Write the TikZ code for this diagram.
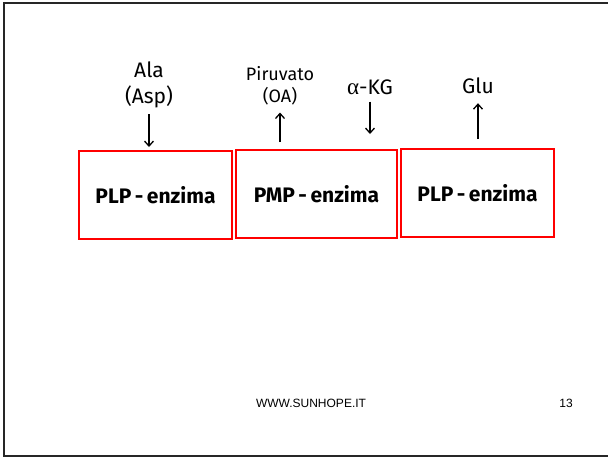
\documentclass[tikz,border=0pt]{standalone}
\usepackage{fontspec}
\setmainfont{Fira Sans}
\newfontfamily\footfont{Liberation Sans}
\newfontfamily\greekfont{Liberation Serif}
\usetikzlibrary{positioning,arrows.meta}
\tikzstyle{enz}   = [rectangle, draw=red, line width=2pt, minimum width=153pt,
                     minimum height=88pt, inner sep=0pt,
                     font=\fontsize{21}{24}\selectfont\bfseries]
\tikzstyle{mol}   = [align=center, inner sep=1pt, font=\fontsize{21}{26}\selectfont\mdseries]
\tikzstyle{ptr}   = [draw, -{Straight Barb[length=5pt,width=9pt]}, line width=1.3pt, black]
\tikzstyle{frame} = [draw, line width=2pt, black!85]
\begin{document}
\begin{tikzpicture}[x=1pt, y=-1pt, node distance=4pt]
		\useasboundingbox (0,0) rectangle (608,459);
		\draw[frame] (609,3) -- (4,3) -- (4,456) -- (609,456);

		\node[enz] (plpA) at (155.5,195) {PLP\,-\,enzima};
		\node[enz, minimum width=161pt] (pmp) at (316.5,194) {PMP\,-\,enzima};
		\node[enz] (plpB) at (477.5,193) {PLP\,-\,enzima};

		\node[mol] (ala) at (149,85) {Ala\\(Asp)};
		\node[mol, font=\fontsize{18}{22}\selectfont] (piru) at (280,86) {Piruvato\\(OA)};
		\node[mol] (akg) at (370,87) {{\greekfont\fontsize{23}{26}\selectfont α}-KG};
		\node[mol] (glu) at (478,86) {Glu};

		\draw[ptr, shorten <=5pt, shorten >=3pt] (ala.south) -- (ala.south |- plpA.north);
		\draw[ptr, shorten <=7pt, shorten >=6pt] (piru.south |- pmp.north) -- (piru.south);
		\draw[ptr, shorten <=6pt, shorten >=15pt] (akg.south) -- (akg.south |- pmp.north);
		\draw[ptr, shorten <=9pt, shorten >=8pt] (glu.south |- plpB.north) -- (glu.south);

		\node[font=\footfont\fontsize{12}{14}\selectfont] (web) at (311,403) {WWW.SUNHOPE.IT};
		\node[font=\footfont\fontsize{12}{14}\selectfont] (pag) at (566,403) {13};
	\end{tikzpicture}
\end{document}
